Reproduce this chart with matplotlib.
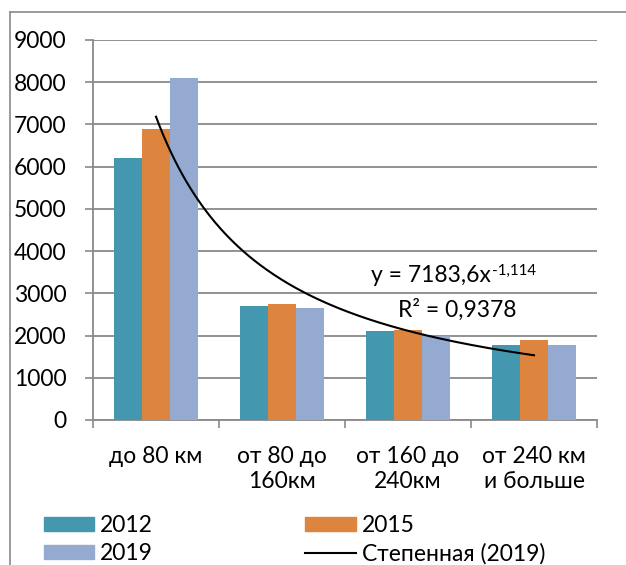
import numpy as np
import matplotlib
matplotlib.use("Agg")
import matplotlib.pyplot as plt
from matplotlib.lines import Line2D
from matplotlib.patches import Patch

plt.rcParams['font.family'] = ['Lato', 'DejaVu Sans']

categories = ["до 80 км", "от 80 до\n160км", "от 160 до\n240км", "от 240 км\nи больше"]
series_names = ["2012", "2015", "2019"]
v2012 = [6200, 2700, 2115, 1775]
v2015 = [6890, 2740, 2120, 1900]
v2019 = [8110, 2650, 1990, 1785]
colors = ["#4398B0", "#DD843E", "#95AAD0"]
trend_a = 7183.6
trend_b = -1.114
trend_label = "Степенная (2019)"
eq_main = "y = 7183,6x"
eq_sup = "-1,114"
r2_text = "R² = 0,9378"
yticks = [0, 1000, 2000, 3000, 4000, 5000, 6000, 7000, 8000, 9000]

W, H = 626, 565
fig = plt.figure(figsize=(W / 100, H / 100), dpi=100)
ax = fig.add_axes([93 / W, 1 - 420 / H, (597 - 93) / W, (420 - 40) / H])

grid_c = "#898989"
fs = 16.5
x = np.arange(len(categories))
bw = 0.222
for i, (vals, c) in enumerate(zip([v2012, v2015, v2019], colors)):
    ax.bar(x + (i - 1) * bw, vals, width=bw, color=c, linewidth=0, zorder=3)

# power trendline for 2019
xt = np.linspace(1, len(categories), 200)
yt = trend_a * xt ** trend_b
ax.plot(xt - 1, yt, color="black", lw=1.5, zorder=4)

ax.set_xlim(-0.5, len(categories) - 0.5)
ax.set_ylim(0, 9000)
ax.set_yticks(yticks)
ax.set_yticklabels([str(t) for t in yticks], fontsize=fs)
ax.set_xticks(x)
ax.set_xticklabels(categories, fontsize=fs, linespacing=1.2, va="top")
ax.set_xticks(np.arange(-0.5, len(categories)), minor=True)
ax.tick_params(axis="x", which="major", length=0, pad=19)
ax.tick_params(axis="x", which="minor", length=6, width=1.2, color=grid_c)
ax.tick_params(axis="y", length=6, width=1.2, color=grid_c, pad=13)
ax.grid(axis="y", color=grid_c, lw=1.3, zorder=0)
for s in ["top", "right"]:
    ax.spines[s].set_visible(False)
for s in ["left", "bottom"]:
    ax.spines[s].set_color(grid_c)
    ax.spines[s].set_linewidth(1.3)

t_main = ax.text((491 - 93) / 504, (420 - 276) / 380, eq_main, transform=ax.transAxes,
                 ha="right", va="center", fontsize=fs)
ax.annotate(eq_sup, xy=(1, 1), xycoords=t_main, xytext=(0.5, 1.5),
            textcoords="offset points", ha="left", va="top", fontsize=fs * 0.66)
ax.text((457 - 93) / 504, (420 - 310) / 380, r2_text, transform=ax.transAxes,
        ha="center", va="center", fontsize=fs)

# legend
h = [Patch(color=colors[0]), Patch(color=colors[2]), Patch(color=colors[1]),
     Line2D([], [], color="black", lw=1.5)]
labels = [series_names[0], series_names[2], series_names[1], trend_label]
fig.legend(h, labels, loc="upper left", bbox_to_anchor=(44 / W, 1 - 515 / H),
           ncol=2, frameon=False, fontsize=fs, borderpad=0, borderaxespad=0,
           handlelength=2.2, handleheight=0.6, handletextpad=0.25,
           columnspacing=6.65, labelspacing=0.3)

# chart border
fig.add_artist(Line2D([10 / W, 10 / W], [0, 1 - 12 / H], transform=fig.transFigure,
                      color=grid_c, lw=1.2))
fig.add_artist(Line2D([10 / W, 1], [1 - 12 / H, 1 - 12 / H], transform=fig.transFigure,
                      color=grid_c, lw=1.2))

fig.savefig("out.png", dpi=100)
